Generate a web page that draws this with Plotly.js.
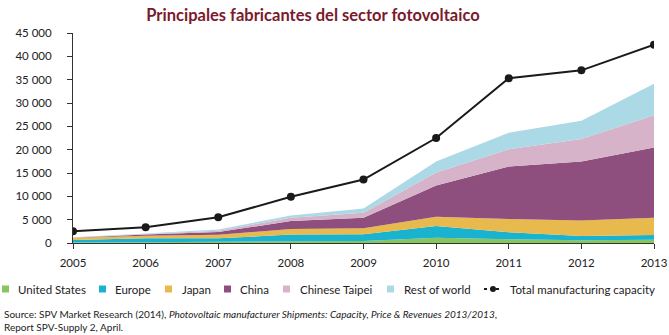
<!DOCTYPE html>
<html>
<head>
<meta charset="utf-8">
<script src="https://cdn.plot.ly/plotly-3.0.1.min.js"></script>
<style>html,body{margin:0;padding:0;background:#fff;}#chart{width:669px;height:335px;}</style>
</head>
<body>
<div id="chart"></div>
<script>
const years = [2005, 2006, 2007, 2008, 2009, 2010, 2011, 2012, 2013];
const unitedStates = [120, 150, 250, 350, 430, 1150, 800, 600, 700];
const europe = [530, 850, 750, 1450, 1470, 2500, 1500, 900, 1000];
const japan = [450, 550, 750, 1200, 1250, 2000, 2850, 3300, 3700];
const china = [50, 250, 600, 1700, 2250, 6650, 11250, 12650, 15050];
const chineseTaipei = [50, 150, 300, 700, 1100, 2800, 3700, 4850, 6950];
const restOfWorld = [50, 100, 250, 500, 900, 2350, 3550, 3900, 6700];
const totalCapacity = [2500, 3400, 5500, 9900, 13600, 22500, 35300, 37000, 42500];
const yTicks = [0, 5000, 10000, 15000, 20000, 25000, 30000, 35000, 40000, 45000];

const seriesNames = ["United States", "Europe", "Japan", "China", "Chinese Taipei", "Rest of world"];
const seriesColors = ["#86c55f", "#19b2cf", "#e8b94c", "#8f4f7e", "#d6b3c8", "#abd9e6"];
const seriesValues = [unitedStates, europe, japan, china, chineseTaipei, restOfWorld];

const FONT = "Lato, 'Open Sans', sans-serif";
const W = 669, H = 335;
const M = {l: 73, r: 15, t: 33, b: 92};
const PW = W - M.l - M.r, PH = H - M.t - M.b;
const px = x => (x - M.l) / PW;
const py = y => (H - M.b - y) / PH;

const traces = seriesNames.map((n, i) => ({
  type: 'scatter', x: years, y: seriesValues[i], name: n,
  stackgroup: 'one', mode: 'none', fillcolor: seriesColors[i],
  line: {width: 0}, hoverinfo: 'x+y+name'
}));
traces.push({
  type: 'scatter', x: years, y: totalCapacity, name: 'Total manufacturing capacity',
  mode: 'lines+markers', line: {color: '#1a1a1a', width: 2},
  marker: {color: '#1a1a1a', size: 8}
});

const shapes = [], annotations = [];
const legendItems = [
  {sq: 2, tx: 16, label: "United States", color: seriesColors[0]},
  {sq: 99, tx: 113, label: "Europe", color: seriesColors[1]},
  {sq: 165, tx: 180, label: "Japan", color: seriesColors[2]},
  {sq: 224, tx: 238, label: "China", color: seriesColors[3]},
  {sq: 283, tx: 298, label: "Chinese Taipei", color: seriesColors[4]},
  {sq: 387, tx: 402, label: "Rest of world", color: seriesColors[5]}
];
const ly = 289;
legendItems.forEach(it => {
  shapes.push({type: 'rect', xref: 'paper', yref: 'paper',
    x0: px(it.sq), x1: px(it.sq + 7), y0: py(ly + 3.5), y1: py(ly - 3.5),
    fillcolor: it.color, line: {width: 0}});
  annotations.push({xref: 'paper', yref: 'paper', x: px(it.tx), y: py(ly),
    xanchor: 'left', yanchor: 'middle', showarrow: false, text: it.label,
    font: {family: FONT, size: 11.5, color: '#222'}});
});
shapes.push({type: 'line', xref: 'paper', yref: 'paper', x0: px(484), x1: px(502),
  y0: py(ly), y1: py(ly), line: {color: '#1a1a1a', width: 2, dash: '3px,3px'}});
shapes.push({type: 'circle', xref: 'paper', yref: 'paper', x0: px(490), x1: px(496),
  y0: py(ly + 3), y1: py(ly - 3), fillcolor: '#1a1a1a', line: {width: 0}});
annotations.push({xref: 'paper', yref: 'paper', x: px(508), y: py(ly),
  xanchor: 'left', yanchor: 'middle', showarrow: false, text: 'Total manufacturing capacity',
  font: {family: FONT, size: 11.5, color: '#222'}});
annotations.push({xref: 'paper', yref: 'paper', x: px(2), y: py(306),
  xanchor: 'left', yanchor: 'top', showarrow: false, align: 'left',
  text: 'Source: SPV Market Research (2014), <i>Photovoltaic manufacturer Shipments: Capacity, Price &amp; Revenues 2013/2013</i>,<br>Report SPV-Supply 2, April.',
  font: {family: FONT, size: 10, color: '#222'}});

const layout = {
  width: W, height: H, margin: M,
  paper_bgcolor: '#fff', plot_bgcolor: '#fff',
  separators: '. ',
  showlegend: false,
  title: {text: '<b>Principales fabricantes del sector fotovoltaico</b>',
    x: 313 / W, xref: 'container', xanchor: 'center', y: 1 - 15 / H, yref: 'container', yanchor: 'middle',
    font: {family: FONT, size: 16.5, color: '#7a1a2c'}},
  xaxis: {range: [2005, 2013], tickvals: years, ticks: 'outside', ticklen: 5,
    tickcolor: '#333', showgrid: false, zeroline: false, showline: true,
    linecolor: '#333', linewidth: 1, fixedrange: true, ticklabelstandoff: 4,
    tickfont: {family: FONT, size: 11.5, color: '#222'}},
  yaxis: {range: [0, 45000], tickvals: yTicks, tickformat: ',d', ticks: 'outside', ticklen: 5,
    tickcolor: '#333', showgrid: false, zeroline: false, showline: true,
    linecolor: '#333', linewidth: 1, fixedrange: true, ticklabelstandoff: 13,
    tickfont: {family: FONT, size: 11.5, color: '#222'}},
  shapes: shapes, annotations: annotations
};
Plotly.newPlot('chart', traces, layout, {displayModeBar: false, staticPlot: true});
</script>
</body>
</html>
